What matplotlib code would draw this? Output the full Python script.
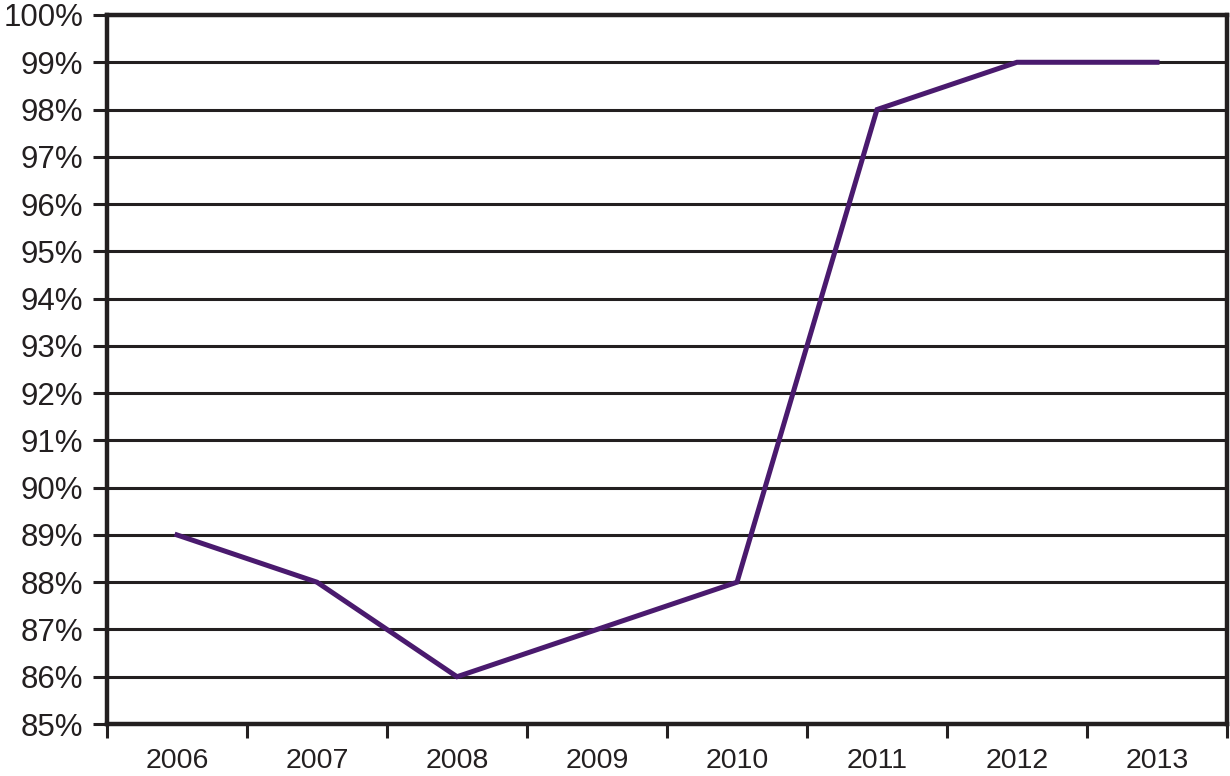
import matplotlib
matplotlib.use("Agg")
import matplotlib.pyplot as plt
from matplotlib.ticker import FuncFormatter, FixedLocator

years = ["2006", "2007", "2008", "2009", "2010", "2011", "2012", "2013"]
values = [89, 88, 86, 87, 88, 98, 99, 99]
y_ticks = list(range(85, 101))

plt.rcParams['font.family'] = ['Liberation Sans', 'DejaVu Sans']

fig = plt.figure(figsize=(12.3, 7.76), dpi=100)
ax = fig.add_axes([107/1230, 52/776, 1120/1230, 709/776])

x = list(range(len(years)))
ax.plot(x, values, color='#4a1a6e', linewidth=3.6, solid_joinstyle='miter', zorder=3)

ax.set_xlim(-0.5, len(years) - 0.5)
ax.set_ylim(85, 100)
ax.set_yticks(y_ticks)
ax.yaxis.set_major_formatter(FuncFormatter(lambda v, p: f"{int(round(v))}%"))
ax.grid(axis='y', color='#231f20', linewidth=2.2)
ax.set_axisbelow(True)

# category axis: ticks between categories, labels at centers
ax.xaxis.set_major_locator(FixedLocator([i - 0.5 for i in range(len(years) + 1)]))
ax.xaxis.set_major_formatter(FuncFormatter(lambda v, p: ""))
ax.xaxis.set_minor_locator(FixedLocator(x))
ax.set_xticklabels(years, minor=True)
ax.tick_params(axis='x', which='minor', length=0, pad=17, labelsize=20.5, labelcolor='#231f20')
ax.tick_params(axis='x', which='major', length=10, width=2.2, color='#231f20')
ax.tick_params(axis='y', length=10, width=2.2, color='#231f20', pad=7, labelsize=22.5, labelcolor='#231f20')

for s in ax.spines.values():
    s.set_color('#231f20')
    s.set_linewidth(3.2)

fig.savefig("out.png", dpi=100)
